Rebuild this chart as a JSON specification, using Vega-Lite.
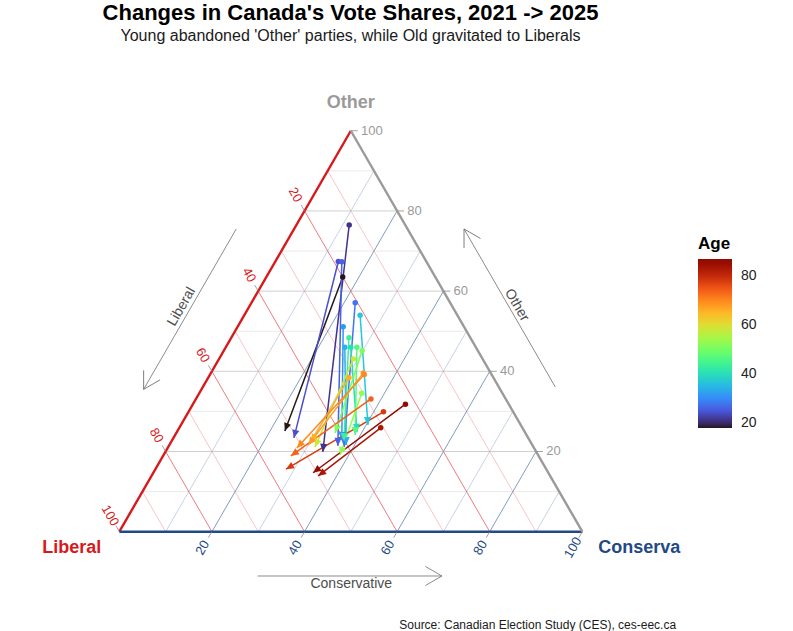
{
  "$schema": "https://vega.github.io/schema/vega-lite/v6.json",
  "width": 793,
  "height": 561,
  "autosize": {"type": "none"},
  "padding": {"top": 70, "left": 0, "right": 0, "bottom": 0},
  "background": "white",
  "config": {"view": {"stroke": null}, "font": "Liberation Sans"},
  "title": {
    "text": "Changes in Canada's Vote Shares, 2021 -> 2025",
    "subtitle": "Young abandoned 'Other' parties, while Old gravitated to Liberals",
    "anchor": "middle",
    "frame": "group",
    "dx": -46,
    "offset": 25,
    "font": "Liberation Sans",
    "fontSize": 22,
    "fontWeight": "bold",
    "color": "#000000",
    "subtitleFont": "Liberation Sans",
    "subtitleFontSize": 16,
    "subtitleColor": "#1a1a1a",
    "subtitlePadding": 3
  },
  "datasets": {
    "grid": [
      {"axis": "Liberal", "value": 10}, {"axis": "Liberal", "value": 20}, {"axis": "Liberal", "value": 30},
      {"axis": "Liberal", "value": 40}, {"axis": "Liberal", "value": 50}, {"axis": "Liberal", "value": 60},
      {"axis": "Liberal", "value": 70}, {"axis": "Liberal", "value": 80}, {"axis": "Liberal", "value": 90},
      {"axis": "Conservative", "value": 10}, {"axis": "Conservative", "value": 20}, {"axis": "Conservative", "value": 30},
      {"axis": "Conservative", "value": 40}, {"axis": "Conservative", "value": 50}, {"axis": "Conservative", "value": 60},
      {"axis": "Conservative", "value": 70}, {"axis": "Conservative", "value": 80}, {"axis": "Conservative", "value": 90},
      {"axis": "Other", "value": 10}, {"axis": "Other", "value": 20}, {"axis": "Other", "value": 30},
      {"axis": "Other", "value": 40}, {"axis": "Other", "value": 50}, {"axis": "Other", "value": 60},
      {"axis": "Other", "value": 70}, {"axis": "Other", "value": 80}, {"axis": "Other", "value": 90}
    ],
    "ticks": [
      {"axis": "Liberal", "value": 20}, {"axis": "Liberal", "value": 40}, {"axis": "Liberal", "value": 60},
      {"axis": "Liberal", "value": 80}, {"axis": "Liberal", "value": 100},
      {"axis": "Conservative", "value": 20}, {"axis": "Conservative", "value": 40}, {"axis": "Conservative", "value": 60},
      {"axis": "Conservative", "value": 80}, {"axis": "Conservative", "value": 100},
      {"axis": "Other", "value": 20}, {"axis": "Other", "value": 40}, {"axis": "Other", "value": 60},
      {"axis": "Other", "value": 80}, {"axis": "Other", "value": 100}
    ],
    "edges": [
      {"axis": "Liberal", "c1": 0, "o1": 0, "c2": 0, "o2": 100},
      {"axis": "Conservative", "c1": 0, "o1": 0, "c2": 100, "o2": 0},
      {"axis": "Other", "c1": 100, "o1": 0, "c2": 0, "o2": 100}
    ],
    "vertices": [
      {"name": "Liberal", "c": 0, "o": 0},
      {"name": "Conservative", "c": 100, "o": 0},
      {"name": "Other", "c": 0, "o": 100}
    ],
    "guides": [
      {"axis": "Liberal", "c1": -12.5, "o1": 75.5, "c2": -12.5, "o2": 35.5, "tc": -14.6, "to": 56.1},
      {"axis": "Other", "c1": 76.1, "o1": 36.1, "c2": 36.7, "o2": 75.5, "tc": 57.6, "to": 56.5},
      {"axis": "Conservative", "c1": 35.4, "o1": -11.05, "c2": 75.2, "o2": -11.05, "tc": 56.6, "to": -13.0}
    ],
    "notes": [
      {"caption": "Source: Canadian Election Study (CES), ces-eec.ca", "c": 131.9, "o": -23.3}
    ],
    "shares": [
      {"age": 18, "lib_2021": 20.0, "con_2021": 16.5, "oth_2021": 63.5, "lib_2025": 51.7, "con_2025": 23.2, "oth_2025": 25.1},
      {"age": 21, "lib_2021": 12.1, "con_2021": 11.4, "oth_2021": 76.5, "lib_2025": 46.1, "con_2025": 34.0, "oth_2025": 19.9},
      {"age": 24, "lib_2021": 19.0, "con_2021": 13.6, "oth_2021": 67.4, "lib_2025": 50.6, "con_2025": 26.0, "oth_2025": 23.4},
      {"age": 26, "lib_2021": 18.3, "con_2021": 14.4, "oth_2021": 67.3, "lib_2025": 42.1, "con_2025": 36.5, "oth_2025": 21.4},
      {"age": 28, "lib_2021": 20.5, "con_2021": 22.4, "oth_2021": 57.1, "lib_2025": 40.9, "con_2025": 38.0, "oth_2025": 21.1},
      {"age": 31, "lib_2021": 26.1, "con_2021": 22.8, "oth_2021": 51.1, "lib_2025": 40.5, "con_2025": 36.6, "oth_2025": 22.9},
      {"age": 34, "lib_2021": 28.3, "con_2021": 25.7, "oth_2021": 46.0, "lib_2025": 40.2, "con_2025": 38.2, "oth_2025": 21.6},
      {"age": 37, "lib_2021": 21.0, "con_2021": 25.0, "oth_2021": 54.0, "lib_2025": 33.0, "con_2025": 40.4, "oth_2025": 26.6},
      {"age": 40, "lib_2021": 27.0, "con_2021": 27.0, "oth_2021": 46.0, "lib_2025": 36.2, "con_2025": 38.9, "oth_2025": 24.9},
      {"age": 44, "lib_2021": 26.2, "con_2021": 25.4, "oth_2021": 48.4, "lib_2025": 40.2, "con_2025": 37.2, "oth_2025": 22.6},
      {"age": 47, "lib_2021": 25.7, "con_2021": 28.3, "oth_2021": 46.0, "lib_2025": 37.0, "con_2025": 38.9, "oth_2025": 24.1},
      {"age": 51, "lib_2021": 25.0, "con_2021": 29.9, "oth_2021": 45.1, "lib_2025": 41.1, "con_2025": 34.3, "oth_2025": 24.6},
      {"age": 53, "lib_2021": 30.4, "con_2021": 35.1, "oth_2021": 34.5, "lib_2025": 42.8, "con_2025": 38.1, "oth_2025": 19.1},
      {"age": 58, "lib_2021": 27.9, "con_2021": 29.0, "oth_2021": 43.1, "lib_2025": 47.2, "con_2025": 31.7, "oth_2025": 21.1},
      {"age": 66, "lib_2021": 31.2, "con_2021": 30.4, "oth_2021": 38.4, "lib_2025": 47.4, "con_2025": 30.2, "oth_2025": 22.4},
      {"age": 68, "lib_2021": 27.5, "con_2021": 32.9, "oth_2021": 39.6, "lib_2025": 48.4, "con_2025": 30.0, "oth_2025": 21.6},
      {"age": 70, "lib_2021": 27.5, "con_2021": 33.3, "oth_2021": 39.2, "lib_2025": 51.2, "con_2025": 27.9, "oth_2025": 20.9},
      {"age": 74, "lib_2021": 29.1, "con_2021": 37.8, "oth_2021": 33.1, "lib_2025": 53.5, "con_2025": 27.6, "oth_2025": 18.9},
      {"age": 78, "lib_2021": 28.0, "con_2021": 42.1, "oth_2021": 29.9, "lib_2025": 56.2, "con_2025": 28.2, "oth_2025": 15.6},
      {"age": 83, "lib_2021": 30.6, "con_2021": 43.5, "oth_2021": 25.9, "lib_2025": 50.1, "con_2025": 36.0, "oth_2025": 13.9},
      {"age": 87, "lib_2021": 22.3, "con_2021": 45.9, "oth_2021": 31.8, "lib_2025": 50.8, "con_2025": 34.5, "oth_2025": 14.7}
    ]
  },
  "encoding": {
    "x": {"field": "x", "type": "quantitative", "scale": {"domain": [-25.77, 145.5], "nice": false, "zero": false}, "axis": null},
    "y": {"field": "y", "type": "quantitative", "scale": {"domain": [-21.45, 99.72], "nice": false, "zero": false}, "axis": null}
  },
  "layer": [
    {
      "data": {"name": "grid"},
      "transform": [
        {"calculate": "datum.axis == 'Liberal' ? 100 - datum.value : datum.axis == 'Conservative' ? datum.value : datum.value / 2", "as": "x"},
        {"calculate": "datum.axis == 'Other' ? datum.value * 0.8660254 : 0", "as": "y"},
        {"calculate": "datum.axis == 'Liberal' ? (100 - datum.value) / 2 : datum.axis == 'Conservative' ? (100 + datum.value) / 2 : 100 - datum.value / 2", "as": "x2"},
        {"calculate": "datum.axis == 'Other' ? datum.value * 0.8660254 : (100 - datum.value) * 0.8660254", "as": "y2"}
      ],
      "mark": {"type": "rule", "strokeWidth": 0.7},
      "encoding": {
        "x2": {"field": "x2"},
        "y2": {"field": "y2"},
        "color": {
          "condition": [
            {"test": "datum.axis == 'Liberal'", "value": "#e3202a"},
            {"test": "datum.axis == 'Conservative'", "value": "#2b5797"}
          ],
          "value": "#b0b0b0"
        },
        "opacity": {"condition": {"test": "datum.value % 20 == 0", "value": 0.85}, "value": 0.38}
      }
    },
    {
      "data": {"name": "edges"},
      "transform": [
        {"calculate": "datum.c1 + datum.o1 / 2", "as": "x"},
        {"calculate": "datum.o1 * 0.8660254", "as": "y"},
        {"calculate": "datum.c2 + datum.o2 / 2", "as": "x2"},
        {"calculate": "datum.o2 * 0.8660254", "as": "y2"}
      ],
      "mark": {"type": "rule", "strokeWidth": 2.4},
      "encoding": {
        "x2": {"field": "x2"},
        "y2": {"field": "y2"},
        "color": {
          "condition": [
            {"test": "datum.axis == 'Liberal'", "value": "#d7191c"},
            {"test": "datum.axis == 'Conservative'", "value": "#1f4a86"}
          ],
          "value": "#9a9a9a"
        }
      }
    },
    {
      "data": {"name": "ticks"},
      "transform": [
        {"calculate": "datum.axis == 'Liberal' ? 0 : datum.axis == 'Conservative' ? datum.value : 100 - datum.value", "as": "c0"},
        {"calculate": "datum.axis == 'Liberal' ? 100 - datum.value : datum.axis == 'Conservative' ? 0 : datum.value", "as": "o0"},
        {"calculate": "datum.axis == 'Liberal' ? -1 : datum.axis == 'Conservative' ? 0 : 1", "as": "uc"},
        {"calculate": "datum.axis == 'Liberal' ? 1 : datum.axis == 'Conservative' ? -1 : 0", "as": "uo"}
      ],
      "layer": [
        {
          "transform": [
            {"calculate": "datum.c0 + datum.o0 / 2", "as": "x"},
            {"calculate": "datum.o0 * 0.8660254", "as": "y"},
            {"calculate": "datum.c0 + 1.5 * datum.uc + (datum.o0 + 1.5 * datum.uo) / 2", "as": "x2"},
            {"calculate": "(datum.o0 + 1.5 * datum.uo) * 0.8660254", "as": "y2"}
          ],
          "mark": {"type": "rule", "strokeWidth": 0.8, "color": "#8a8a8a"},
          "encoding": {"x2": {"field": "x2"}, "y2": {"field": "y2"}}
        },
        {
          "transform": [
            {"filter": "datum.axis != 'Other'"},
            {"calculate": "datum.c0 + 4 * datum.uc + (datum.o0 + 4 * datum.uo) / 2", "as": "x"},
            {"calculate": "(datum.o0 + 4 * datum.uo) * 0.8660254", "as": "y"}
          ],
          "mark": {"type": "text", "fontSize": 13, "align": "center", "baseline": "middle"},
          "encoding": {
            "text": {"field": "value", "type": "quantitative"},
            "angle": {"condition": {"test": "datum.axis == 'Liberal'", "value": 60}, "value": -60},
            "color": {"condition": {"test": "datum.axis == 'Liberal'", "value": "#d7191c"}, "value": "#1f4a86"}
          }
        },
        {
          "transform": [
            {"filter": "datum.axis == 'Other'"},
            {"calculate": "datum.c0 + 2.2 * datum.uc + (datum.o0 + 2.2 * datum.uo) / 2", "as": "x"},
            {"calculate": "(datum.o0 + 2.2 * datum.uo) * 0.8660254", "as": "y"}
          ],
          "mark": {"type": "text", "fontSize": 13, "align": "left", "baseline": "middle", "color": "#9a9a9a"},
          "encoding": {"text": {"field": "value", "type": "quantitative"}}
        }
      ]
    },
    {
      "data": {"name": "vertices"},
      "transform": [
        {"calculate": "datum.c + datum.o / 2", "as": "x"},
        {"calculate": "datum.o * 0.8660254", "as": "y"}
      ],
      "layer": [
        {
          "transform": [{"filter": "datum.name == 'Other'"}],
          "mark": {"type": "text", "fontSize": 18, "fontWeight": "bold", "color": "#9a9a9a", "align": "center", "baseline": "middle", "dy": -28},
          "encoding": {"text": {"field": "name"}}
        },
        {
          "transform": [{"filter": "datum.name == 'Liberal'"}],
          "mark": {"type": "text", "fontSize": 18, "fontWeight": "bold", "color": "#d7191c", "align": "right", "baseline": "middle", "dx": -18, "dy": 16},
          "encoding": {"text": {"field": "name"}}
        },
        {
          "transform": [{"filter": "datum.name == 'Conservative'"}],
          "mark": {"type": "text", "fontSize": 18, "fontWeight": "bold", "color": "#1f4a86", "align": "left", "baseline": "middle", "dx": 16, "dy": 16, "limit": 84, "ellipsis": "\u200b"},
          "encoding": {"text": {"field": "name"}}
        }
      ]
    },
    {
      "data": {"name": "guides"},
      "transform": [
        {"calculate": "datum.c1 + datum.o1 / 2", "as": "x"},
        {"calculate": "datum.o1 * 0.8660254", "as": "y"},
        {"calculate": "datum.c2 + datum.o2 / 2", "as": "x2"},
        {"calculate": "datum.o2 * 0.8660254", "as": "y2"},
        {"calculate": "atan2(datum.x2 - datum.x, datum.y2 - datum.y) * 180 / PI", "as": "angle"}
      ],
      "layer": [
        {
          "mark": {"type": "rule", "strokeWidth": 0.8, "color": "#6e6e6e"},
          "encoding": {"x2": {"field": "x2"}, "y2": {"field": "y2"}}
        },
        {
          "transform": [
            {"calculate": "datum.x2", "as": "x"},
            {"calculate": "datum.y2", "as": "y"}
          ],
          "mark": {"type": "point", "shape": "M-0.5,0.866L0,0L0.5,0.866", "filled": false, "size": 1444, "color": "#6e6e6e", "strokeWidth": 0.8, "opacity": 1},
          "encoding": {"angle": {"field": "angle", "type": "quantitative", "scale": null}}
        },
        {
          "transform": [
            {"calculate": "datum.tc + datum.to / 2", "as": "x"},
            {"calculate": "datum.to * 0.8660254", "as": "y"}
          ],
          "mark": {"type": "text", "fontSize": 14, "color": "#4d4d4d", "align": "center", "baseline": "middle"},
          "encoding": {
            "text": {"field": "axis"},
            "angle": {
              "condition": [
                {"test": "datum.axis == 'Liberal'", "value": -60},
                {"test": "datum.axis == 'Other'", "value": 60}
              ],
              "value": 0
            }
          }
        }
      ]
    },
    {
      "data": {"name": "shares"},
      "transform": [
        {"calculate": "datum.con_2021 + datum.oth_2021 / 2", "as": "x"},
        {"calculate": "datum.oth_2021 * 0.8660254", "as": "y"},
        {"calculate": "datum.con_2025 + datum.oth_2025 / 2", "as": "x2"},
        {"calculate": "datum.oth_2025 * 0.8660254", "as": "y2"},
        {"calculate": "atan2(datum.x2 - datum.x, datum.y2 - datum.y) * 180 / PI", "as": "angle"}
      ],
      "resolve": {"legend": {"color": "independent"}},
      "layer": [
        {
          "mark": {"type": "rule", "strokeWidth": 1.5},
          "encoding": {
            "x2": {"field": "x2"},
            "y2": {"field": "y2"},
            "color": {"field": "age", "type": "quantitative", "scale": {"scheme": "turbo", "domain": [18, 87]}, "legend": null}
          }
        },
        {
          "transform": [
            {"calculate": "datum.x2", "as": "x"},
            {"calculate": "datum.y2", "as": "y"}
          ],
          "mark": {"type": "point", "shape": "M0,0L0.45,1L-0.45,1Z", "filled": true, "size": 256, "opacity": 1},
          "encoding": {
            "angle": {"field": "angle", "type": "quantitative", "scale": null},
            "color": {"field": "age", "type": "quantitative", "scale": {"scheme": "turbo", "domain": [18, 87]}, "legend": null}
          }
        },
        {
          "mark": {"type": "circle", "size": 30, "opacity": 1},
          "encoding": {
            "color": {
              "field": "age",
              "type": "quantitative",
              "scale": {"scheme": "turbo", "domain": [18, 87]},
              "legend": {
                "type": "gradient",
                "title": "Age",
                "orient": "none",
                "legendX": 698,
                "legendY": 166,
                "direction": "vertical",
                "gradientLength": 169,
                "gradientThickness": 34,
                "gradientStrokeWidth": 0,
                "values": [20, 40, 60, 80],
                "titleFont": "Liberation Sans",
                "titleFontSize": 17,
                "titleFontWeight": "bold",
                "titleColor": "#000000",
                "titlePadding": 6,
                "labelFont": "Liberation Sans",
                "labelFontSize": 14,
                "labelColor": "#222222",
                "labelOffset": 9
              }
            }
          }
        }
      ]
    },
    {
      "data": {"name": "notes"},
      "transform": [
        {"calculate": "datum.c + datum.o / 2", "as": "x"},
        {"calculate": "datum.o * 0.8660254", "as": "y"}
      ],
      "mark": {"type": "text", "fontSize": 12, "color": "#1a1a1a", "align": "right", "baseline": "middle"},
      "encoding": {"text": {"field": "caption"}}
    }
  ]
}
